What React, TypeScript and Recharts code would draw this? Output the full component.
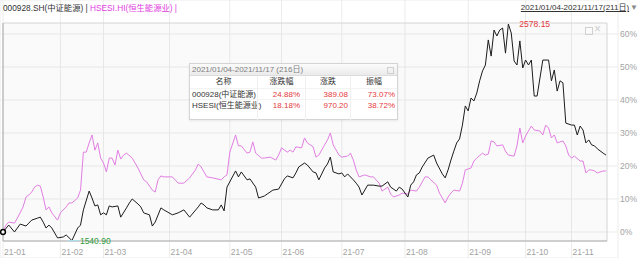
import React from "react";
import {
  LineChart,
  Line,
  XAxis,
  YAxis,
  CartesianGrid,
  ReferenceArea,
  ReferenceLine,
} from "recharts";

// trading-day index from 2021-01-04, % change vs first close
const csiDays = [
  0, 2, 4, 6, 8, 9, 10, 12, 13, 14, 15, 16, 17, 19, 21, 22, 24, 26, 27, 28, 30, 31, 32, 33, 34, 35, 36, 37, 38, 40,
  41, 43, 44, 45, 47, 48, 49, 51, 52, 53, 55, 56, 59, 61, 63, 65, 68, 69, 70, 71, 73, 75, 76, 77, 78, 81, 82, 83, 85,
  86, 88, 89, 91, 92, 94, 96, 98, 99, 101, 102, 103, 105, 106, 108, 109, 110, 112, 113, 114, 115, 117, 118, 119, 120,
  122, 123, 124, 125, 127, 129, 131, 132, 134, 135, 137, 138, 139, 141, 142, 143, 144, 145, 146, 148, 150, 151, 153,
  154, 155, 156, 157, 158, 159, 160, 161, 162, 163, 164, 165, 166, 167, 168, 169, 170, 171, 172, 173, 174, 175, 176,
  177, 178, 179, 180, 181, 182, 183, 184, 185, 186, 188, 190, 191, 192, 193, 194, 195, 196, 198, 199, 200, 201, 202,
  203, 204, 205, 206, 207, 209, 210,
];
const csiPct = [
  0, 2.1, 0.0, 2.4, 1.8, 2.7, 3.6, 4.2, 4.5, 3.0, 1.2, 2.1, 1.2, -1.8, -1.5, -0.9, -2.6, 1.2, 2.1, 6.7, 12.4, 10.3, 7.9,
  8.2, 5.2, 5.8, 5.2, 7.9, 7.6, 7.9, 4.5, 7.3, 8.8, 10.0, 8.5, 7.6, 5.8, 5.2, 1.8, 3.0, 7.3, 6.7, 5.2, 5.8, 6.7, 4.5,
  7.6, 8.8, 8.2, 7.3, 6.7, 6.7, 8.2, 6.4, 13.6, 18.5, 16.7, 18.2, 15.8, 16.1, 13.6, 10.3, 10.9, 11.5, 12.7, 13.0, 16.1,
  17.0, 16.4, 17.9, 19.7, 20.9, 20.3, 18.2, 17.9, 15.8, 19.4, 20.6, 22.7, 18.2, 17.6, 17.9, 16.7, 17.6, 15.8, 14.8,
  13.6, 11.2, 14.2, 14.2, 13.9, 13.9, 15.2, 13.6, 12.4, 13.6, 13.0, 10.6, 14.2, 15.2, 17.3, 17.9, 19.7, 22.4, 23.3,
  20.9, 17.6, 16.4, 18.8, 21.8, 24.5, 27.0, 28.2, 32.4, 38.2, 36.7, 40.6, 39.7, 42.1, 45.8, 48.8, 50.6, 58.2, 53.3,
  61.2, 59.4, 61.2, 61.8, 54.2, 63.0, 60.3, 51.8, 50.6, 57.9, 49.7, 52.1, 50.6, 52.1, 41.2, 41.2, 52.1, 52.1, 45.8,
  49.1, 42.7, 45.8, 45.2, 33.0, 32.4, 32.4, 29.4, 32.1, 30.9, 27.0, 27.9, 26.4, 26.1, 25.2, 23.9, 23.3,
];

const hsDays = [
  0, 1, 2, 4, 5, 7, 8, 9, 10, 11, 12, 13, 14, 15, 16, 17, 19, 20, 22, 23, 24, 26, 27, 28, 29, 30, 31, 32, 33, 34, 35,
  36, 37, 38, 39, 40, 41, 42, 43, 45, 46, 47, 49, 50, 52, 53, 54, 55, 56, 59, 61, 63, 65, 67, 68, 69, 70, 71, 73, 76,
  77, 78, 79, 81, 82, 83, 85, 86, 87, 88, 90, 91, 93, 95, 96, 97, 99, 100, 101, 102, 104, 105, 106, 108, 109, 110, 112,
  113, 114, 115, 117, 118, 120, 121, 122, 123, 124, 126, 128, 129, 131, 132, 134, 135, 136, 138, 139, 141, 142, 144,
  145, 147, 148, 149, 151, 152, 154, 155, 156, 157, 159, 160, 161, 163, 164, 165, 167, 168, 169, 170, 171, 172, 174,
  175, 176, 178, 179, 180, 181, 182, 184, 185, 187, 188, 189, 190, 191, 192, 193, 195, 196, 197, 198, 199, 201, 202,
  203, 204, 205, 206, 207, 209, 210,
];
const hsPct = [
  0, 2.1, 3.0, 2.7, 4.2, 7.6, 10.6, 11.2, 12.1, 13.6, 14.2, 13.9, 10.6, 6.7, 7.6, 5.8, 3.6, 5.8, 7.6, 8.8, 8.8, 10.3,
  12.7, 24.2, 24.2, 27.0, 29.4, 24.8, 27.0, 22.4, 20.9, 18.2, 22.4, 22.4, 20.3, 24.8, 22.1, 23.3, 23.9, 22.4, 20.9,
  19.4, 15.8, 15.2, 12.7, 12.1, 15.8, 17.0, 16.7, 16.7, 14.8, 14.8, 16.4, 18.8, 20.6, 19.7, 18.2, 16.7, 16.4, 15.8,
  16.7, 17.3, 24.2, 29.4, 26.1, 26.1, 23.9, 24.2, 27.3, 23.9, 22.4, 22.4, 22.7, 21.8, 23.3, 25.5, 24.2, 24.8, 24.2,
  25.8, 25.5, 28.5, 27.0, 25.8, 22.7, 23.3, 26.4, 27.9, 30.0, 26.4, 23.3, 22.7, 23.0, 23.9, 21.8, 18.8, 16.7, 17.3,
  16.7, 16.7, 14.8, 12.4, 13.6, 11.5, 10.6, 11.2, 11.8, 11.5, 12.7, 12.4, 13.6, 16.7, 16.7, 15.8, 14.2, 11.8, 8.8,
  10.6, 11.8, 12.7, 12.4, 14.8, 18.8, 19.4, 21.5, 22.4, 23.9, 23.3, 23.6, 27.6, 27.3, 26.1, 26.4, 24.5, 23.3, 23.0,
  26.1, 31.5, 27.0, 29.1, 32.1, 30.9, 30.6, 29.4, 32.4, 31.5, 28.5, 29.4, 27.0, 27.6, 26.1, 23.3, 22.4, 23.0, 21.5,
  21.5, 17.9, 18.8, 18.8, 18.5, 17.9, 18.5, 18.5,
];

const monthTicks = [0, 20, 35, 58, 79, 97, 118, 140, 162, 182, 198];
const monthLabels = ["21-01", "21-02", "21-03", "21-04", "21-05", "21-06", "21-07", "21-08", "21-09", "21-10", "21-11"];
const pctTicks = [0, 10, 20, 30, 40, 50, 60];

const csiLow = 1540.9;
const csiHigh = 2578.15;

const statsTitle = "2021/01/04-2021/11/17 (216日)";
const statsHead = ["名称", "涨跌幅", "涨跌", "振幅"];
const statsNames = ["000928(中证能源)", "HSESI(恒生能源业)"];
const statsChangePct = ["24.88%", "18.18%"];
const statsChange = ["389.08", "970.20"];
const statsAmplitude = ["73.07%", "38.72%"];

const FONT = "'Liberation Sans', 'Noto Sans CJK SC', sans-serif";
const RED = "#e3393c";

const allDays = Array.from(new Set([...csiDays, ...hsDays])).sort((a, b) => a - b);
const rows = allDays.map((day) => {
  const i = csiDays.indexOf(day);
  const j = hsDays.indexOf(day);
  return { day, csi: i >= 0 ? csiPct[i] : null, hs: j >= 0 ? hsPct[j] : null };
});
const lowDay = csiDays[csiPct.indexOf(Math.min(...csiPct))];
const highDay = csiDays[csiPct.indexOf(Math.max(...csiPct))];

function CsiDot(props: any) {
  const { cx, cy, payload, index } = props;
  const key = `dot-${index}`;
  if (cy == null) return <g key={key} />;
  if (payload.day === 0)
    return <circle key={key} cx={cx} cy={cy} r={2.4} fill="#fff" stroke="#000" strokeWidth={1.5} />;
  if (payload.day === lowDay)
    return (
      <g key={key}>
        <line x1={cx - 4} x2={cx + 7} y1={cy} y2={cy} stroke="#a6e2f0" strokeWidth={1} />
        <text x={cx + 8} y={cy + 3} fill="#2f9a3a" fontSize={8.5} fontFamily={FONT}>
          {csiLow.toFixed(2)}
        </text>
      </g>
    );
  if (payload.day === highDay)
    return (
      <text key={key} x={cx + 11} y={cy + 3} fill={RED} fontSize={8.5} fontFamily={FONT}>
        {csiHigh.toFixed(2)}
      </text>
    );
  return <g key={key} />;
}

function MonthTick(props: any) {
  const { x, payload } = props;
  return (
    <text x={x + 1} y={255} fill="#a3a3a3" fontSize={8.5} fontFamily={FONT}>
      {monthLabels[monthTicks.indexOf(payload.value)]}
    </text>
  );
}

function PctTick(props: any) {
  const { y, payload } = props;
  return (
    <text x={620} y={y + 3} fill="#a3a3a3" fontSize={8.5} fontFamily={FONT}>
      {payload.value}%
    </text>
  );
}

function StatsPanel() {
  const cols = [67, 48, 45, 47];
  const aligns: ("left" | "right")[] = ["left", "right", "right", "right"];
  const pads = [2, 5, 2, 2];
  const body = statsNames.map((n, i) => [n, statsChangePct[i], statsChange[i], statsAmplitude[i]]);
  return (
    <div
      style={{
        position: "absolute",
        left: 189,
        top: 63,
        width: 209,
        height: 57,
        boxSizing: "border-box",
        border: "1px solid #d4d4d4",
        background: "#fff",
        boxShadow: "0 1px 2px rgba(0,0,0,0.08)",
        fontFamily: FONT,
        fontSize: 8,
      }}
    >
      <div
        style={{
          height: 11,
          lineHeight: "11px",
          background: "linear-gradient(#fbfbfb, #ebebeb)",
          borderBottom: "1px solid #dcdcdc",
          color: "#808080",
          paddingLeft: 2,
          position: "relative",
        }}
      >
        {statsTitle}
        <span
          style={{
            position: "absolute",
            right: 3,
            top: 3,
            width: 5,
            height: 5,
            border: "1px solid #d0d0d0",
          }}
        />
      </div>
      <div style={{ display: "flex", height: 44 }}>
        {cols.map((w, c) => (
          <div key={c} style={{ width: w, borderLeft: c > 0 ? "1px solid #f0f0f0" : "none", boxSizing: "border-box" }}>
            <div style={{ height: 11.7, lineHeight: "11.7px", textAlign: "center", color: "#333" }}>{statsHead[c]}</div>
            {body.map((r, i) => (
              <div
                key={i}
                style={{
                  height: 11.7,
                  lineHeight: "11.7px",
                  textAlign: aligns[c],
                  paddingLeft: c === 0 ? pads[c] : 0,
                  paddingRight: c === 0 ? 0 : pads[c],
                  color: c === 0 ? "#333" : RED,
                  whiteSpace: "nowrap",
                  borderTop: "1px solid #f3f3f3",
                  boxSizing: "border-box",
                }}
              >
                {r[c]}
              </div>
            ))}
          </div>
        ))}
      </div>
    </div>
  );
}

export default function App() {
  return (
    <div style={{ position: "absolute", left: 0, top: 0, width: 640, height: 258, background: "#fff" }}>
      <LineChart width={640} height={258} data={rows} margin={{ top: 0, right: 0, bottom: 0, left: 0 }}>
        <ReferenceArea
          x1={0}
          x2={210.35}
          y1={-2.73}
          y2={63.33}
          fill="#000"
          fillOpacity={0.018}
          stroke="#d4d4d4"
          strokeWidth={1}
        />
        <CartesianGrid stroke="#ececec" />
        <XAxis
          dataKey="day"
          type="number"
          domain={[-1.045, 214.18]}
          ticks={monthTicks}
          interval={0}
          mirror
          axisLine={false}
          tickLine={false}
          tick={MonthTick}
          allowDataOverflow
        />
        <YAxis
          orientation="right"
          width={22}
          type="number"
          domain={[-7.88, 70.3]}
          ticks={pctTicks}
          interval={0}
          axisLine={false}
          tickLine={false}
          tick={PctTick}
          allowDataOverflow
        />
        <ReferenceLine
          segment={[
            { x: 0, y: -2.73 },
            { x: 210.35, y: -2.73 },
          ]}
          stroke="#b4b4b4"
        />
        <ReferenceLine
          segment={[
            { x: 0, y: -2.73 },
            { x: 0, y: 63.33 },
          ]}
          stroke="#b4b4b4"
        />
        <Line
          type="linear"
          dataKey="hs"
          stroke="#e27ee2"
          strokeWidth={1}
          dot={false}
          activeDot={false}
          connectNulls
          isAnimationActive={false}
        />
        <Line
          type="linear"
          dataKey="csi"
          stroke="#1c1c1c"
          strokeWidth={1}
          dot={CsiDot}
          activeDot={false}
          connectNulls
          isAnimationActive={false}
        />
      </LineChart>

      <div
        style={{
          position: "absolute",
          left: 3,
          top: 2,
          fontFamily: FONT,
          fontSize: 8.3,
          lineHeight: "12px",
          whiteSpace: "nowrap",
        }}
      >
        <span style={{ color: "#333" }}>000928.SH(中证能源) | </span>
        <span style={{ color: "#e040e0" }}>HSESI.HI(恒生能源业) |</span>
      </div>
      <div
        style={{
          position: "absolute",
          right: 2,
          top: 2,
          fontFamily: FONT,
          fontSize: 8,
          lineHeight: "12px",
          whiteSpace: "nowrap",
          color: "#333",
        }}
      >
        <span style={{ textDecoration: "underline" }}>2021/01/04-2021/11/17(211日)</span>
        <span style={{ color: "#888", marginLeft: 1 }}>▼</span>
      </div>
      <div style={{ position: "absolute", left: 585, top: 27, width: 6, height: 6, border: "1px solid #d0d0d0" }} />
      <div
        style={{
          position: "absolute",
          left: 594,
          top: 22,
          color: "#cfcfcf",
          fontFamily: FONT,
          fontSize: 12,
          lineHeight: "14px",
        }}
      >
        ×
      </div>
      <StatsPanel />
    </div>
  );
}
